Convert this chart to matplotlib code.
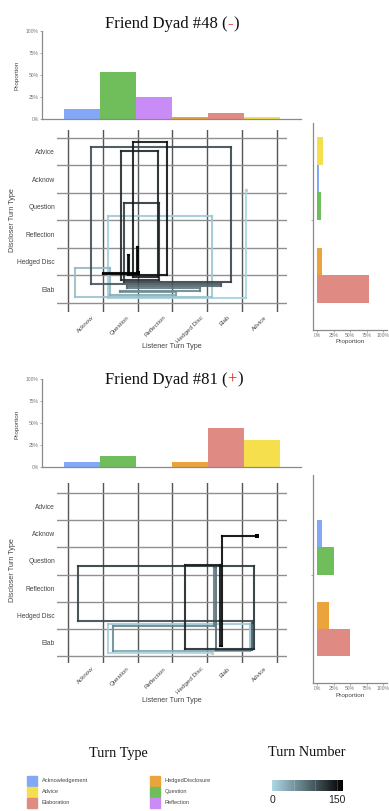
import numpy as np
import matplotlib
matplotlib.use('Agg')
import matplotlib.pyplot as plt
from matplotlib.collections import LineCollection
from matplotlib.colors import LinearSegmentedColormap, Normalize
from matplotlib.patches import Rectangle
from matplotlib.ticker import PercentFormatter

# ---- data ----------------------------------------------------------------
listener_cats = ['Acknow', 'Question', 'Reflection', 'Hedged Disc', 'Elab', 'Advice']
discloser_cats = ['Elab', 'Hedged Disc', 'Reflection', 'Question', 'Acknow', 'Advice']  # bottom -> top
short_to_type = {'Acknow': 'Acknowledgement', 'Advice': 'Advice', 'Elab': 'Elaboration',
                 'Hedged Disc': 'HedgedDisclosure', 'Question': 'Question', 'Reflection': 'Reflection'}
legend_types = ['Acknowledgement', 'Advice', 'Elaboration', 'HedgedDisclosure', 'Question', 'Reflection']
type_colors = {'Acknowledgement': '#82a8f7', 'Advice': '#f6df4c', 'Elaboration': '#e08a84',
               'HedgedDisclosure': '#eba43c', 'Question': '#70bd5c', 'Reflection': '#c98cf6'}

# proportions (listener order / discloser order)
dyad48_listener = [0.11, 0.53, 0.25, 0.015, 0.06, 0.015]
dyad48_discloser = [0.78, 0.07, 0.0, 0.05, 0.025, 0.08]
dyad81_listener = [0.06, 0.12, 0.0, 0.06, 0.44, 0.31]
dyad81_discloser = [0.50, 0.185, 0.0, 0.25, 0.065, 0.0]

# state space trajectories (listener position, discloser position, turn number)
dyad48_x = [4.60, 4.60, 0.64, 0.64, 3.65, 3.65, -0.30, -0.30, 0.71, 0.71,
            2.60, 2.60, 1.00, 1.00, 3.30, 3.30, 1.20, 1.20, 3.90, 3.90,
            0.16, 0.16, 4.17, 4.17, 1.12, 1.12, 2.11, 2.11, 1.02, 1.02,
            2.08, 2.08, 1.36, 1.36, 2.33, 2.33, 1.21, 1.21, 1.24, 1.24,
            1.49, 1.49, 1.51, 1.51, 0.50, 0.50, 1.52]
dyad48_y = [3.61, -0.33, -0.33, 2.66, 2.66, -0.28, -0.28, 0.77, 0.77, -0.22,
            -0.22, -0.12, -0.12, -0.05, -0.05, 0.05, 0.05, 0.12, 0.12, 0.19,
            0.19, 5.18, 5.18, 0.25, 0.25, 3.15, 3.15, 0.34, 0.34, 5.04,
            5.04, 0.46, 0.46, 5.37, 5.37, 0.50, 0.50, 1.25, 1.25, 0.55,
            0.55, 1.53, 1.53, 0.54, 0.54, 0.58, 0.58]
dyad48_turn = [0, 3, 6, 9, 12, 15, 18, 21, 24, 28,
               40, 46, 52, 58, 64, 70, 76, 82, 88, 94,
               100, 104, 108, 112, 116, 120, 124, 127, 130, 133,
               136, 139, 142, 145, 148, 150, 152, 154, 155, 156,
               157, 158, 159, 160, 161, 162, 164]

dyad81_x = [3.63, 0.64, 0.64, 4.73, 4.73, 0.80, 0.80, 3.70, 3.70, 3.76,
            3.76, 4.78, 4.78, 4.80, 4.80, -0.22, -0.22, 4.84, 4.84, 2.86,
            2.86, 3.88, 3.88, 3.91, 3.91, 4.92]
dyad81_y = [-0.36, -0.36, 0.69, 0.69, -0.30, -0.30, 0.63, 0.63, 2.76, 2.76,
            -0.25, -0.25, 0.72, 0.72, 0.79, 0.79, 2.81, 2.81, -0.22, -0.22,
            2.85, 2.85, -0.12, -0.12, 3.91, 3.91]
dyad81_turn = [0, 4, 8, 12, 16, 56, 60, 66, 72, 78,
               84, 90, 96, 100, 104, 110, 116, 122, 128, 134,
               140, 146, 152, 156, 160, 164]

max_turn = 164.6
turn_cmap = LinearSegmentedColormap.from_list('turns', ['#add8e6', '#000000'])
turn_norm = Normalize(0, max_turn)

# ---- figure ----------------------------------------------------------------
W, H = 389, 811
SERIF = 'Liberation Serif'
SANS = 'Liberation Sans'
GREY = '#444444'

fig = plt.figure(figsize=(W / 100, H / 100), dpi=100)
overlay = fig.add_axes([0, 0, 1, 1])
overlay.set_xlim(0, W)
overlay.set_ylim(H, 0)
overlay.axis('off')
overlay.patch.set_alpha(0)
overlay.set_zorder(10)


def px_axes(left, top, right, bottom):
    a = fig.add_axes([left / W, 1 - bottom / H, (right - left) / W, (bottom - top) / H])
    a.patch.set_alpha(0)
    return a


def draw_panel(num, sign, listener_prop, discloser_prop, px, py, turns, g):
    # title, with the coloured sign
    t1 = overlay.text(105, g['title'], f'Friend Dyad #{num} (', family=SERIF, size=12,
                      ha='left', va='baseline', color='#111111')
    t2 = overlay.annotate(sign, xy=(1, 0), xycoords=t1, ha='left', va='bottom',
                          family=SERIF, size=12, color='#e8231f')
    overlay.annotate(')', xy=(1, 0), xycoords=t2, ha='left', va='bottom',
                     family=SERIF, size=12, color='#111111')

    # listener marginal (top)
    ax_top = px_axes(42, g['top'][0], 301, g['top'][1])
    ax_top.bar(range(len(listener_cats)), listener_prop, width=1.0,
               color=[type_colors[short_to_type[c]] for c in listener_cats])
    ax_top.set_xlim(-1.11, 6.08)
    ax_top.set_ylim(0, 1)
    ax_top.set_yticks([0, 0.25, 0.5, 0.75, 1.0])
    ax_top.yaxis.set_major_formatter(PercentFormatter(1.0, decimals=0))
    ax_top.set_xticks([])
    for s in ['top', 'right']:
        ax_top.spines[s].set_visible(False)
    for s in ['left', 'bottom']:
        ax_top.spines[s].set_color('#8a8a8a')
        ax_top.spines[s].set_linewidth(0.9)
    ax_top.tick_params(axis='y', length=1.5, width=0.5, color='#8a8a8a', pad=1,
                       labelsize=3.6, labelcolor='#777777')
    for lab in ax_top.get_yticklabels():
        lab.set_family(SANS)
    overlay.text(17.5, g['top_ylab'], 'Proportion', rotation=90, ha='center', va='center',
                 family=SANS, size=4.6, color=GREY)

    # state space grid
    ax = px_axes(57, g['main'][0], 287, g['main'][1])
    ax.set_xlim(-0.816, 5.79)
    ax.set_ylim(g['ylim'])
    ax.set_xticks(range(6))
    ax.set_xticklabels(listener_cats, rotation=45, ha='center', va='top',
                       family=SANS, size=4.5, color=GREY)
    ax.set_yticks(range(6))
    ax.set_yticklabels(discloser_cats, family=SANS, size=4.8, color=GREY)
    ax.set_xticks(np.arange(-0.5, 6.0, 1.0), minor=True)
    ax.set_yticks(np.arange(-0.5, 6.0, 1.0), minor=True)
    ax.tick_params(which='both', length=0)
    ax.tick_params(axis='x', pad=2)
    ax.tick_params(axis='y', pad=1.5)
    ax.xaxis.grid(True, which='minor', color='#555555', lw=1.0)
    ax.yaxis.grid(True, which='minor', color='#8f8f8f', lw=1.0)
    ax.set_axisbelow(True)
    for s in ax.spines.values():
        s.set_visible(False)

    pts = np.column_stack([px, py])
    segs = np.stack([pts[:-1], pts[1:]], axis=1)
    tt = np.asarray(turns, dtype=float)
    seg_turn = (tt[:-1] + tt[1:]) / 2
    lc = LineCollection(segs, cmap=turn_cmap, norm=turn_norm, linewidths=1.5,
                        capstyle='projecting', joinstyle='miter', alpha=0.9, zorder=3)
    lc.set_array(seg_turn)
    ax.add_collection(lc)
    ax.scatter([px[0]], [py[0]], s=6, color='#c9c9c9', zorder=4, linewidths=0)
    ax.scatter([px[-1]], [py[-1]], s=9, marker='s', color='#000000', zorder=4, linewidths=0)

    overlay.text(172, g['xlab'], 'Listener Turn Type', ha='center', va='center',
                 family=SANS, size=5.2, color=GREY)
    overlay.text(13, g['ylab'], 'Discloser Turn Type', rotation=90, ha='center', va='center',
                 family=SANS, size=5.2, color=GREY)

    # discloser marginal (right)
    ax_r = px_axes(313, g['right'][0], 387, g['right'][1])
    ax_r.barh(range(len(discloser_cats)), discloser_prop, height=1.0,
              color=[type_colors[short_to_type[c]] for c in discloser_cats])
    ax_r.set_xlim(-0.066, 1.06)
    ax_r.set_ylim(g['rylim'])
    ax_r.set_xticks([0, 0.25, 0.5, 0.75, 1.0])
    ax_r.xaxis.set_major_formatter(PercentFormatter(1.0, decimals=0))
    ax_r.set_yticks([2.5])
    ax_r.set_yticklabels([''])
    for s in ['top', 'right']:
        ax_r.spines[s].set_visible(False)
    for s in ['left', 'bottom']:
        ax_r.spines[s].set_color('#8a8a8a')
        ax_r.spines[s].set_linewidth(0.9)
    ax_r.tick_params(length=1.5, width=0.5, color='#8a8a8a', pad=1,
                     labelsize=3.6, labelcolor='#777777')
    for lab in ax_r.get_xticklabels():
        lab.set_family(SANS)
    overlay.text(350, g['rxlab'], 'Proportion', ha='center', va='center',
                 family=SANS, size=4.6, color=GREY)


panel48 = {'title': 28.5, 'top': (31, 118.7), 'top_ylab': 75, 'main': (130, 312),
           'ylim': (-0.83, 5.79), 'xlab': 346, 'ylab': 220, 'right': (123, 330),
           'rylim': (-1.48, 6.01), 'rxlab': 341}
panel81 = {'title': 383.5, 'top': (379, 467), 'top_ylab': 424, 'main': (483.3, 663.3),
           'ylim': (-0.755, 5.845), 'xlab': 700, 'ylab': 570, 'right': (475, 683),
           'rylim': (-1.478, 6.149), 'rxlab': 696}

draw_panel(48, '-', dyad48_listener, dyad48_discloser, dyad48_x, dyad48_y, dyad48_turn, panel48)
draw_panel(81, '+', dyad81_listener, dyad81_discloser, dyad81_x, dyad81_y, dyad81_turn, panel81)

# ---- legends -------------------------------------------------------------
overlay.text(118, 753, 'Turn Type', ha='center', va='center', family=SERIF, size=10.3,
             color='#111111')
overlay.text(307, 753, 'Turn Number', ha='center', va='center', family=SERIF, size=10.3,
             color='#111111')

for i, name in enumerate(legend_types):
    col, row = divmod(i, 3)
    x0 = 27 + col * 123
    yc = 780.7 + row * 11
    overlay.add_patch(Rectangle((x0, yc - 5), 10, 10, color=type_colors[name]))
    overlay.text(x0 + 14.5, yc, name, ha='left', va='center', family=SANS, size=4.1,
                 color=GREY)

ax_cb = px_axes(272, 780, 343, 791)
grad = np.linspace(0, max_turn, 256).reshape(1, -1)
ax_cb.imshow(grad, cmap=turn_cmap, norm=turn_norm, aspect='auto',
             extent=[0, max_turn, 0, 1])
for v in [50, 100, 150]:
    ax_cb.axvline(v, color='white', lw=0.5, alpha=0.25)
ax_cb.set_xlim(0, max_turn)
ax_cb.set_xticks([0, 150])
ax_cb.set_xticklabels(['0', '150'], family=SANS, size=7.5, color='#222222')
ax_cb.set_yticks([])
ax_cb.tick_params(length=0, pad=3)
for s in ax_cb.spines.values():
    s.set_visible(False)

fig.savefig('out.png', dpi=100)
